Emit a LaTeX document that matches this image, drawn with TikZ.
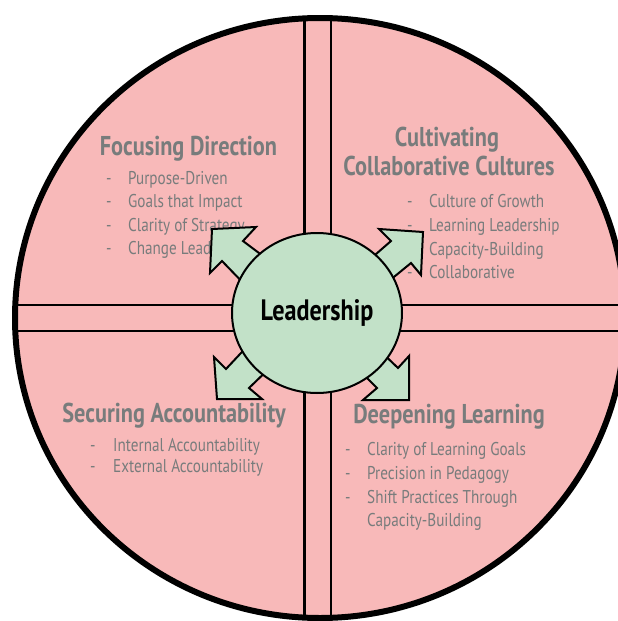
\documentclass[tikz,border=0pt]{standalone}
\usepackage{fontspec}
\setmainfont[FakeStretch=0.82]{PT Sans}
\usetikzlibrary{shapes.geometric}
\definecolor{quadpink}{HTML}{F8B9B9}
\definecolor{leadgreen}{HTML}{C2E1C8}
\definecolor{quadgray}{HTML}{787C7C}

\begin{document}
\begin{tikzpicture}[x=1pt,y=-1pt]
\tikzstyle{every node}=[inner sep=0pt]
\tikzstyle{quadtitle}=[anchor=base,text=quadgray,font=\bfseries\fontsize{27.2}{30}\selectfont]
\tikzstyle{listitem}=[anchor=base west,text=quadgray,font=\fontsize{18.5}{22}\selectfont]
\tikzstyle{hyph}=[listitem]
\tikzstyle{bar}=[line width=2.5pt]
\tikzstyle{blockarrow}=[fill=leadgreen,draw=black,line width=2pt,line join=miter]
 \useasboundingbox (0,0) rectangle (618,621);
 \coordinate (c) at (320,318);
 % big circle and the cross
 \fill[quadpink] (c) ellipse[x radius=305pt,y radius=300pt];
 \begin{scope}
 \clip (c) ellipse[x radius=305pt,y radius=300pt];
 \draw[bar] (304.5,0) -- (304.5,621);
 \draw[bar] (331,0) -- (331,621);
 \draw[bar] (0,305) -- (618,305);
 \draw[bar] (0,331) -- (618,331);
 \end{scope}
 \draw[line width=6pt] (c) ellipse[x radius=305pt,y radius=300pt];
 % focusing direction
 \node[quadtitle] (fd) at (188.5,155) {Focusing Direction};
 \node[hyph] at (106,184) {-};
 \node[listitem] (fd1) at (128,184) {Purpose-Driven};
 \node[hyph] at (106,207.5) {-};
 \node[listitem] (fd2) at (128,207.5) {Goals that Impact};
 \node[hyph] at (106,231) {-};
 \node[listitem] (fd3) at (128,231) {Clarity of Strategy};
 \node[hyph] at (106,254.5) {-};
 \node[listitem] (fd4) at (128,254.5) {Change Leadership};
 % collaborative cultures
 \node[quadtitle] (cc) at (447,146) {Cultivating};
 \node[quadtitle] (cc0) at (449,175) {Collaborative Cultures};
 \node[hyph] at (407,207) {-};
 \node[listitem] (cc1) at (429,207) {Culture of Growth};
 \node[hyph] at (407,231) {-};
 \node[listitem] (cc2) at (429,231) {Learning Leadership};
 \node[hyph] at (407,255) {-};
 \node[listitem] (cc3) at (429,255) {Capacity-Building};
 \node[hyph] at (407,278) {-};
 \node[listitem] (cc4) at (429,278) {Collaborative};
 % accountability
 \node[quadtitle] (sa) at (174,422) {Securing Accountability};
 \node[hyph] at (90,451) {-};
 \node[listitem] (sa1) at (113,451) {Internal Accountability};
 \node[hyph] at (90,472) {-};
 \node[listitem] (sa2) at (113,472) {External Accountability};
 % deepening learning
 \node[quadtitle] (dl) at (449,423) {Deepening Learning};
 \node[hyph] at (345,455) {-};
 \node[listitem] (dl1) at (367,455) {Clarity of Learning Goals};
 \node[hyph] at (345,479) {-};
 \node[listitem] (dl2) at (367,479) {Precision in Pedagogy};
 \node[hyph] at (345,503) {-};
 \node[listitem] (dl3) at (367,503) {Shift Practices Through};
 \node[listitem] (dl4) at (367,526) {Capacity-Building};
 % arrows out of the centre
 \draw[blockarrow] (275,265) -- (243,241) -- (256,227) -- (212,229)
   -- (210,273) -- (222,261) -- (250,290) -- cycle;
 \draw[blockarrow] (360,268) -- (391,241) -- (379,229) -- (423,232)
   -- (421,275) -- (411,263) -- (378,290) -- cycle;
 \draw[blockarrow] (255,338) -- (226,369) -- (214,357) -- (217,399)
   -- (262,399) -- (249,388) -- (278,360) -- cycle;
 \draw[blockarrow] (375,346) -- (398,368) -- (409,356) -- (409,400)
   -- (363,400) -- (377,388) -- (355,366) -- cycle;
 \node[ellipse,draw,line width=2pt,fill=leadgreen,minimum width=170pt,minimum height=160pt,
   font=\bfseries\fontsize{29.5}{32}\selectfont] (lead) at (317,313) {Leadership};
\end{tikzpicture}
\end{document}
